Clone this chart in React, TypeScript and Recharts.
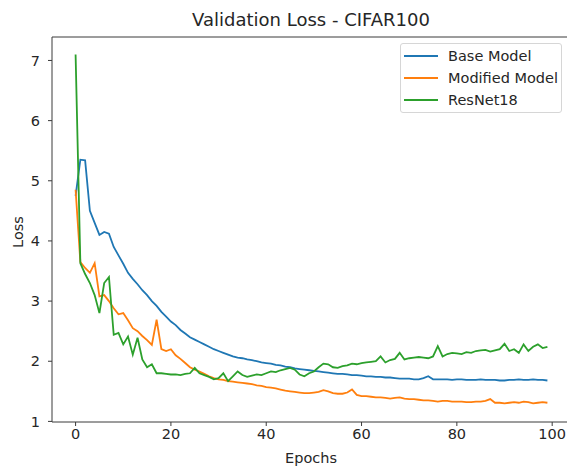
import { Line, LineChart, ReferenceLine, XAxis, YAxis } from "recharts";

const EPOCHS = Array.from({ length: 100 }, (_, i) => i);

const BASE_MODEL = [
    4.75, 5.35, 5.34, 4.5, 4.3, 4.1, 4.15, 4.12, 3.9, 3.76,
    3.62, 3.47, 3.37, 3.28, 3.18, 3.1, 3.0, 2.92, 2.82, 2.74,
    2.66, 2.6, 2.52, 2.46, 2.4, 2.36, 2.32, 2.28, 2.24, 2.2,
    2.17, 2.14, 2.11, 2.08, 2.06, 2.05, 2.03, 2.02, 2.0, 1.98,
    1.97, 1.96, 1.94, 1.93, 1.91, 1.9, 1.88, 1.87, 1.86, 1.85,
    1.84, 1.83, 1.82, 1.81, 1.8, 1.79, 1.79, 1.78, 1.77, 1.77,
    1.76, 1.75, 1.75, 1.74, 1.74, 1.73, 1.73, 1.72, 1.71, 1.71,
    1.71, 1.7, 1.7, 1.72, 1.75, 1.7, 1.7, 1.7, 1.7, 1.69,
    1.7, 1.7, 1.69, 1.69, 1.69, 1.7, 1.69, 1.69, 1.69, 1.68,
    1.68, 1.69, 1.69, 1.7, 1.69, 1.69, 1.7, 1.69, 1.69, 1.68,
];

const MODIFIED_MODEL = [
    4.85, 3.65, 3.55, 3.47, 3.63, 3.08, 3.1, 3.0, 2.88, 2.78,
    2.8, 2.68, 2.55, 2.5, 2.42, 2.35, 2.27, 2.69, 2.2, 2.17,
    2.2, 2.1, 2.04, 1.97, 1.9, 1.86, 1.83, 1.79, 1.75, 1.72,
    1.7, 1.69, 1.67, 1.66, 1.65, 1.64, 1.63, 1.62, 1.6, 1.59,
    1.57, 1.56, 1.55, 1.53, 1.51, 1.5, 1.49, 1.48, 1.47, 1.47,
    1.48, 1.49, 1.52, 1.5, 1.47, 1.46, 1.46, 1.48, 1.53, 1.44,
    1.42, 1.42, 1.41, 1.4, 1.4, 1.39, 1.38, 1.39, 1.4, 1.38,
    1.37, 1.37, 1.36, 1.35, 1.35, 1.34, 1.33, 1.34, 1.34, 1.33,
    1.33, 1.33, 1.32, 1.32, 1.33, 1.33, 1.34, 1.37, 1.31, 1.31,
    1.3, 1.31, 1.32, 1.31, 1.33, 1.32, 1.3, 1.31, 1.32, 1.31,
];

const RESNET18 = [
    7.1, 3.63, 3.45, 3.3, 3.1, 2.8, 3.3, 3.4, 2.44, 2.47,
    2.28, 2.41, 2.11, 2.39, 2.03, 1.9, 1.95, 1.8, 1.8, 1.79,
    1.78, 1.78, 1.77, 1.79, 1.8, 1.89, 1.8, 1.77, 1.74, 1.7,
    1.72, 1.8, 1.67, 1.75, 1.83, 1.77, 1.74, 1.76, 1.78, 1.77,
    1.8, 1.83, 1.82, 1.85, 1.87, 1.89, 1.86, 1.78, 1.75, 1.8,
    1.83, 1.9, 1.96, 1.95, 1.9, 1.89, 1.92, 1.93, 1.96, 1.95,
    1.97, 1.98, 1.99, 2.0, 2.08, 1.98, 2.02, 2.04, 2.14, 2.03,
    2.05, 2.06, 2.07, 2.06, 2.05, 2.08, 2.25, 2.08, 2.12, 2.14,
    2.13, 2.12, 2.15, 2.14, 2.17, 2.18, 2.19, 2.16, 2.18, 2.2,
    2.29, 2.17, 2.2, 2.14, 2.28, 2.17, 2.24, 2.28, 2.22, 2.24,
];

const X_TICKS = [0, 20, 40, 60, 80, 100];
const Y_TICKS = [1, 2, 3, 4, 5, 6, 7];

const SERIES = [
    { key: "base", name: "Base Model", color: "#1f77b4" },
    { key: "modified", name: "Modified Model", color: "#ff7f0e" },
    { key: "resnet", name: "ResNet18", color: "#2ca02c" },
];

const data = EPOCHS.map((epoch, i) => ({
    epoch,
    base: BASE_MODEL[i],
    modified: MODIFIED_MODEL[i],
    resnet: RESNET18[i],
}));

const FONT = "'DejaVu Sans', sans-serif";
const TEXT = "#262626";
const SPINE = "#3a3a3a";

// legend drawn as an overlay so it doesn't eat plot width
function LegendBox() {
    return (
        <div
            style={{
                position: "absolute",
                left: 400,
                top: 43,
                width: 162,
                height: 70,
                boxSizing: "border-box",
                border: "1px solid #d6d6d6",
                borderRadius: 3,
                background: "rgba(255,255,255,0.8)",
                padding: "1px 0 0 3px",
                fontFamily: FONT,
                fontSize: 14.5,
                color: TEXT,
            }}
        >
            {SERIES.map((s) => (
                <div key={s.key} style={{ display: "flex", alignItems: "center", height: 22 }}>
                    <span style={{ display: "inline-block", width: 34, height: 2, background: s.color, marginRight: 10 }} />
                    <span>{s.name}</span>
                </div>
            ))}
        </div>
    );
}

export default function App() {
    return (
        <div style={{ position: "absolute", left: 0, top: 0, width: 567, height: 471, overflow: "hidden", background: "#fff" }}>
            {/* title */}
            <div
                style={{
                    position: "absolute", left: 0, width: 622, top: 9, height: 22, lineHeight: "22px",
                    textAlign: "center", fontFamily: FONT, fontSize: 18, color: TEXT,
                }}
            >
                Validation Loss - CIFAR100
            </div>

            <LineChart width={575} height={471} data={data} margin={{ top: 37, right: 4, bottom: 0, left: 0 }}>
                <XAxis
                    dataKey="epoch"
                    type="number"
                    domain={[-4.95, 103.95]}
                    ticks={X_TICKS}
                    allowDataOverflow
                    height={49}
                    stroke={SPINE}
                    tickSize={4}
                    tickMargin={3}
                    tick={{ fill: TEXT, fontSize: 14.5, fontFamily: FONT }}
                />
                <YAxis
                    type="number"
                    domain={[0.99, 7.39]}
                    ticks={Y_TICKS}
                    allowDataOverflow
                    width={52}
                    stroke={SPINE}
                    tickSize={4}
                    tickMargin={8}
                    tick={{ fill: TEXT, fontSize: 14.5, fontFamily: FONT }}
                />
                <ReferenceLine y={7.39} stroke={SPINE} strokeWidth={1} />
                {SERIES.map((s) => (
                    <Line
                        key={s.key}
                        dataKey={s.key}
                        name={s.name}
                        stroke={s.color}
                        strokeWidth={1.8}
                        dot={false}
                        type="linear"
                        isAnimationActive={false}
                    />
                ))}
            </LineChart>

            <LegendBox />

            {/* axis labels */}
            <div
                style={{
                    position: "absolute", left: 261, width: 100, top: 449, height: 18, lineHeight: "18px",
                    textAlign: "center", fontFamily: FONT, fontSize: 14.5, color: TEXT,
                }}
            >
                Epochs
            </div>
            <div
                style={{
                    position: "absolute", left: -32, width: 100, top: 223, height: 18, lineHeight: "18px",
                    textAlign: "center", fontFamily: FONT, fontSize: 14.5, color: TEXT, transform: "rotate(-90deg)",
                }}
            >
                Loss
            </div>
        </div>
    );
}
